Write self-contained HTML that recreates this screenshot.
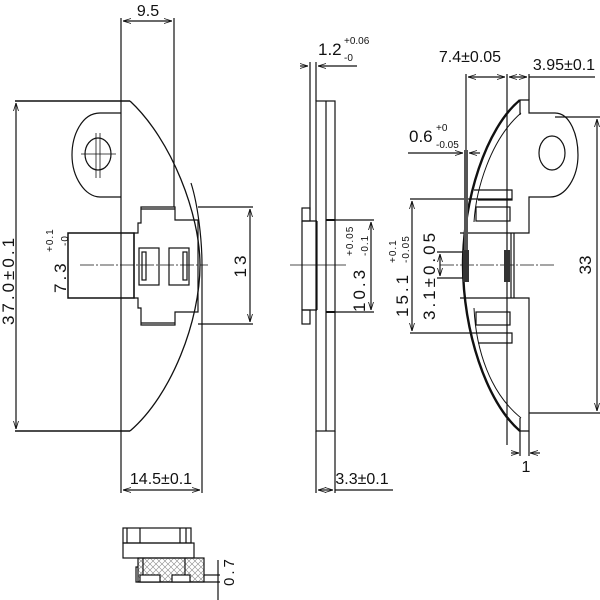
<!DOCTYPE html>
<html><head><meta charset="utf-8"><style>
html,body{margin:0;padding:0;background:#fff}
svg{display:block}
text{font-family:"Liberation Sans",sans-serif;fill:#111}
</style></head><body>
<svg width="600" height="600" viewBox="0 0 600 600" xmlns="http://www.w3.org/2000/svg">
<defs>
<marker id="a" markerWidth="8" markerHeight="6" refX="8" refY="3" orient="auto-start-reverse" markerUnits="userSpaceOnUse"><path d="M0,0.5 L8,3 L0,5.5" fill="none" stroke="#111" stroke-width="0.8"/></marker>
<pattern id="h" width="6" height="6" patternUnits="userSpaceOnUse"><path d="M0,0 L6,6 M6,0 L0,6" stroke="#888" stroke-width="0.6"/></pattern>
</defs>
<g fill="none" stroke="#111" stroke-width="1.2">
<line x1="15" y1="101" x2="130" y2="101" stroke-width="1.6"/>
<line x1="15" y1="431" x2="130" y2="431" stroke-width="1.6"/>
<line x1="16" y1="103" x2="16" y2="429" marker-start="url(#a)" marker-end="url(#a)"/>
<line x1="121" y1="18" x2="121" y2="493"/>
<line x1="174" y1="18" x2="174" y2="207"/>
<line x1="123" y1="21" x2="172" y2="21" marker-start="url(#a)" marker-end="url(#a)"/>
<path d="M130,101 C172,140 200,215 200,265 C200,320 172,395 130,431" stroke-width="1.3"/>
<path d="M191,183 C198,205 202,240 202,265 L202,493"/>
<path d="M121,113 H100 C82,113 72,135 72,155 C72,177 85,197 100,197 H121"/>
<ellipse cx="98" cy="154" rx="13" ry="16"/>
<line x1="81" y1="154" x2="116" y2="154" stroke-width="0.8"/>
<line x1="96" y1="133" x2="96" y2="178" stroke-width="0.8"/>
<line x1="100" y1="133" x2="100" y2="178" stroke-width="0.8"/>
<path d="M141,207 H175 V220 H198 V312 H175 V325 H141 V308 H138 V298 H134 V233 H138 V223 H141 Z"/>
<line x1="141" y1="209" x2="175" y2="209"/>
<line x1="141" y1="323" x2="175" y2="323"/>
<rect x="68" y="233" width="66" height="65" stroke-width="1.5"/>
<rect x="139" y="248" width="20" height="37"/>
<rect x="142" y="252" width="4" height="28"/>
<rect x="169" y="248" width="20" height="37"/>
<rect x="183" y="252" width="4" height="28"/>
<line x1="80" y1="265" x2="208" y2="265" stroke-width="0.8" stroke-dasharray="14,2,2,2"/>
<line x1="198" y1="207" x2="253" y2="207"/>
<line x1="198" y1="324" x2="253" y2="324"/>
<line x1="250" y1="209" x2="250" y2="322" marker-start="url(#a)" marker-end="url(#a)"/>
<line x1="123" y1="490" x2="200" y2="490" marker-start="url(#a)" marker-end="url(#a)"/>
<line x1="310" y1="62" x2="310" y2="210"/>
<line x1="316" y1="62" x2="316" y2="101"/>
<line x1="300" y1="66" x2="308" y2="66" marker-end="url(#a)"/>
<line x1="357" y1="66" x2="318" y2="66" marker-end="url(#a)"/>
<rect x="316" y="101" width="19" height="330"/>
<line x1="326" y1="101" x2="326" y2="431"/>
<rect x="302" y="208" width="8" height="13"/>
<rect x="302" y="310" width="8" height="14"/>
<path d="M302,221 H317 M302,310 H317 M302,221 V310"/>
<line x1="317" y1="221" x2="317" y2="310"/>
<line x1="326" y1="220" x2="335" y2="220" stroke-width="2"/>
<line x1="326" y1="312" x2="335" y2="312" stroke-width="2"/>
<line x1="335" y1="220" x2="374" y2="220"/>
<line x1="335" y1="312" x2="374" y2="312"/>
<line x1="371" y1="222" x2="371" y2="310" marker-start="url(#a)" marker-end="url(#a)"/>
<line x1="290" y1="265" x2="346" y2="265" stroke-width="0.8"/>
<line x1="316" y1="431" x2="316" y2="493"/>
<line x1="335" y1="431" x2="335" y2="493"/>
<line x1="318" y1="490" x2="333" y2="490" marker-start="url(#a)" marker-end="url(#a)"/>
<line x1="335" y1="490" x2="393" y2="490"/>
<line x1="466" y1="74" x2="466" y2="150"/>
<line x1="507" y1="74" x2="507" y2="445"/>
<line x1="529" y1="74" x2="529" y2="100"/>
<line x1="468" y1="77" x2="505" y2="77" marker-start="url(#a)" marker-end="url(#a)"/>
<line x1="509" y1="77" x2="527" y2="77" marker-start="url(#a)" marker-end="url(#a)"/>
<line x1="529" y1="77" x2="595" y2="77"/>
<path d="M520,100 C486,128 463,200 463,265 C463,330 486,402 520,431" stroke-width="2.4"/>
<path d="M521,113 C490,140 476,190 474,222 M474,308 C476,350 490,393 521,418" stroke-width="1"/>
<path d="M520,100 H529 V113 H555 C570,113 578,135 578,155 C578,177 566,197 550,197 H529 V233 H460"/>
<path d="M460,298 H529 V413 H600 M529,413 V431 H520"/>
<line x1="520" y1="100" x2="520" y2="115"/>
<line x1="520" y1="418" x2="520" y2="431"/>
<ellipse cx="552" cy="153" rx="13" ry="17"/>
<path d="M474,190 H512 V200 H478"/>
<rect x="476" y="207" width="34" height="14"/>
<rect x="476" y="312" width="34" height="13"/>
<path d="M476,333 H512 V343 H478"/>
<line x1="511" y1="233" x2="511" y2="298"/>
<line x1="514" y1="233" x2="514" y2="298"/>
<line x1="555" y1="117" x2="600" y2="117"/>
<line x1="597" y1="119" x2="597" y2="411" marker-start="url(#a)" marker-end="url(#a)"/>
<line x1="410" y1="199" x2="512" y2="199"/>
<line x1="410" y1="333" x2="476" y2="333"/>
<line x1="412" y1="201" x2="412" y2="331" marker-start="url(#a)" marker-end="url(#a)"/>
<line x1="437" y1="252" x2="464" y2="252"/>
<line x1="437" y1="278" x2="464" y2="278"/>
<line x1="440" y1="254" x2="440" y2="276" marker-start="url(#a)" marker-end="url(#a)"/>
<line x1="440" y1="265" x2="555" y2="265" stroke-width="0.8" stroke-dasharray="14,2,2,2"/>
<line x1="408" y1="153" x2="463" y2="153" marker-end="url(#a)"/>
<line x1="480" y1="153" x2="469" y2="153" marker-end="url(#a)"/>
<line x1="520" y1="431" x2="520" y2="456"/>
<line x1="529" y1="431" x2="529" y2="456"/>
<line x1="511" y1="453" x2="519" y2="453" marker-end="url(#a)"/>
<line x1="540" y1="453" x2="530" y2="453" marker-end="url(#a)"/>
<rect x="123" y="528" width="68" height="15"/>
<line x1="127" y1="528" x2="127" y2="543"/>
<line x1="140" y1="528" x2="140" y2="543"/>
<line x1="180" y1="528" x2="180" y2="543"/>
<line x1="186" y1="528" x2="186" y2="543"/>
<rect x="123" y="543" width="71" height="15"/>
<rect x="138" y="558" width="66" height="24" fill="url(#h)"/>
<path d="M138,567 H136 V582 H220"/>
<rect x="140" y="575" width="20" height="7" fill="#fff"/>
<rect x="172" y="575" width="18" height="7" fill="#fff"/>
<line x1="143" y1="558" x2="143" y2="575"/>
<line x1="185" y1="558" x2="185" y2="575"/>
<line x1="204" y1="575" x2="220" y2="575"/>
<line x1="218" y1="560" x2="218" y2="600"/>
</g>
<rect x="464" y="150" width="4" height="100" fill="#555"/>
<rect x="463" y="250" width="6" height="32" fill="#333"/>
<rect x="504" y="250" width="6" height="32" fill="#333"/>
<g font-size="16">
<text x="148" y="16" text-anchor="middle">9.5</text>
<text x="161" y="484" text-anchor="middle">14.5±0.1</text>
<text x="362" y="484" text-anchor="middle">3.3±0.1</text>
<text x="470" y="62" text-anchor="middle">7.4±0.05</text>
<text x="564" y="70" text-anchor="middle">3.95±0.1</text>
<text x="526" y="472" text-anchor="middle">1</text>
<text x="318" y="55" font-size="17">1.2</text>
<text x="344" y="44" font-size="10">+0.06</text>
<text x="344" y="61" font-size="10">-0</text>
<text x="409" y="142" font-size="17">0.6</text>
<text x="436" y="131" font-size="10">+0</text>
<text x="436" y="148" font-size="10">-0.05</text>
</g>
<g font-size="17" letter-spacing="3">
<text transform="translate(14,280) rotate(-90)" text-anchor="middle">37.0±0.1</text>
<text transform="translate(246,265) rotate(-90)" text-anchor="middle">13</text>
<text transform="translate(591,265) rotate(-90)" text-anchor="middle" letter-spacing="0">33</text>
<text transform="translate(66,293) rotate(-90)">7.3</text>
<text transform="translate(365,312) rotate(-90)">10.3</text>
<text transform="translate(408,317) rotate(-90)">15.1</text>
<text transform="translate(435,320) rotate(-90)">3.1±0.05</text>
<text transform="translate(234,586) rotate(-90)" font-size="15">0.7</text>
</g>
<g font-size="10" letter-spacing="1">
<text transform="translate(53,252) rotate(-90)">+0.1</text>
<text transform="translate(68,246) rotate(-90)">-0</text>
<text transform="translate(353,256) rotate(-90)">+0.05</text>
<text transform="translate(368,256) rotate(-90)">-0.1</text>
<text transform="translate(396,263) rotate(-90)">+0.1</text>
<text transform="translate(409,263) rotate(-90)">-0.05</text>
</g>
</svg>
</body></html>
